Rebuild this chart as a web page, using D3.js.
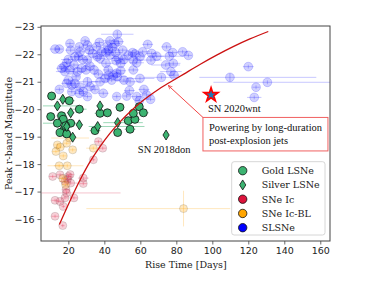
<!DOCTYPE html>
<html>
<head>
<meta charset="utf-8">
<script src="https://cdn.jsdelivr.net/npm/d3@7"></script>
<style>
  html, body { margin: 0; padding: 0; background: #fff; }
  svg { display: block; }
</style>
</head>
<body>
<svg id="chart"></svg>
<script>
// [rise time (days), peak mag, x error (days or [lo, hi]), y error (mag)]
const slsne = [
  [12.6,-22.19,3],[15.0,-22.19,2],[20.9,-22.39,2],[21.3,-22.15,3],[29.3,-22.49,2],[30.6,-22.33,3],
  [37.2,-22.43,2],[43.1,-22.49,4],[47.2,-22.73,9,0.12],[45.9,-22.39,3],[42.2,-22.15,5],[40.9,-22.06,4],
  [26.5,-22.09,3],[25.6,-21.91,2],[28.0,-21.81,3],[20.0,-21.81,4],[23.1,-21.61,3],[16.3,-21.49,3],
  [18.1,-21.37,5],[20.9,-21.43,3],[27.4,-21.49,3],[29.8,-21.43,2],[25.0,-21.37,4],[24.3,-21.18,2],
  [20.0,-21.06,3],[21.9,-20.88,2],[19.1,-20.94,3],[23.7,-20.94,2],[26.5,-20.80,3],[28.3,-20.64,2],
  [30.6,-21.0,6,0.15],[32.0,-20.82,3],[34.8,-20.72,2],[37.6,-21.0,5],[40.4,-21.12,3],[44.1,-21.06,4],
  [42.2,-21.24,3],[47.2,-21.18,5],[54.3,-21.0,6],[53.9,-20.68,3],[52.4,-20.48,2],[58.0,-20.46,3],
  [59.4,-20.31,2],[62.0,-20.72,3],[63.5,-20.52,4],[65.7,-20.36,2],[59.8,-21.12,8],[56.1,-21.43,3],
  [58.0,-21.69,4],[59.8,-21.91,3],[61.3,-22.09,4],[66.3,-22.03,3],[65.9,-21.79,6],[64.1,-22.36,3],
  [69.1,-21.93,4],[74.6,-22.27,3],[76.1,-21.93,8],[78.0,-22.06,3],[78.3,-21.67,4],[77.0,-21.37,6],
  [78.7,-21.24,3],[83.5,-22.09,3],[86.7,-21.96,2],[71.7,-21.16,10],[74.1,-21.61,8],
  [109.8,-21.16,[17,48],0.15],[120.0,-21.55,3],[124.3,-20.80,2],[123.3,-20.43,4],[130.6,-20.98,[30,40]],
  [37.6,-21.85,3],[40.9,-21.67,4],[43.1,-21.97,3],[41.7,-22.30,2],[38.5,-22.09,3],[36.1,-21.91,3],
  [47.8,-21.85,4],[46.5,-21.77,2],[49.1,-21.67,3],[50.9,-21.81,2],[53.3,-21.97,3],[56.1,-21.79,5],
  [57.0,-22.01,3],[55.7,-22.06,2],[50.2,-22.15,3],[46.3,-22.06,4],[44.6,-22.25,2],[47.8,-22.46,3],
  [49.1,-21.40,3],[46.9,-21.31,4],[42.2,-21.43,3],[45.0,-21.24,2],[36.7,-21.28,3],[34.3,-21.43,2],
  [32.0,-21.57,3],[30.6,-21.79,2],[33.5,-22.03,3],[35.7,-22.27,2],[31.7,-22.15,3],[26.1,-22.27,2],
  [23.7,-21.91,3],[19.1,-21.69,2],[17.6,-21.55,3],[15.0,-20.72,2],[21.9,-20.64,2],[26.1,-20.58,3],
  [30.6,-20.46,2],[39.4,-20.58,3],[46.9,-20.46,2],[50.9,-21.06,4]
];

const snIc = [
  [36.7,-18.82,2],[39.1,-18.58,2],[33.9,-18.16,1],[11.3,-17.55,2],[15.4,-17.61,2],[20.0,-17.55,2],
  [28.3,-17.49,3],[28.3,-17.29,2],[18.1,-17.37,3],[21.3,-17.31,4],[18.7,-17.07,2],[19.0,-16.95,[14,30]],
  [18.1,-16.77,2],[23.1,-16.77,2],[12.6,-16.68,2],[15.4,-16.64,2],[17.2,-16.46,1],[12.6,-16.10,2],
  [16.9,-15.76,1],[19.5,-17.45,2],[21.0,-17.62,2]
];

const snIcBL = [
  [13.9,-18.70,2],[15.5,-18.62,3],[19.1,-18.76,2],[22.4,-18.52,2],[13.1,-18.46,2],[17.2,-18.30,2],
  [14.9,-17.94,3],[19.4,-17.94,[11,9]],[33.9,-18.58,4],[16.9,-17.48,2],[20.5,-18.95,[10,11]],
  [18.5,-17.25,2],[84.0,-16.38,[54,26],0.65]
];

const goldLSNe = [
  [10.7,-20.48,2],[10.2,-19.73,2],[20.5,-20.31,3],[26.1,-20.0,4],[16.3,-19.76,3],[17.2,-19.63,2],
  [13.9,-19.49,[8,12]],[21.3,-19.49,3],[17.6,-19.25,3],[15.4,-19.15,2],[19.1,-19.10,2],[37.6,-19.85,3],
  [41.7,-19.87,2],[48.7,-20.07,2],[34.8,-19.22,3],[47.4,-19.15,2],[54.3,-19.27,3],[53.3,-19.58,4],
  [57.0,-19.63,3],[56.1,-19.85,2],[59.4,-20.09,2],[61.7,-19.87,3],[18.5,-19.40,3]
];

const silverLSNe = [
  [13.9,-20.12,[8,11]],[16.9,-20.36,3],[21.3,-19.87,2],[26.1,-19.43,2],[22.4,-18.98,2],[19.1,-19.37,3],
  [37.6,-20.12,2],[36.3,-19.37,[5,26]],[47.4,-19.51,[8,14]],[74.3,-19.06,0]
];

// jet-powered model curve
const jetCurve = [
  [15.0,-15.80],[20.9,-16.66],[26.5,-17.42],[32.0,-18.08],[37.6,-18.64],[43.1,-19.12],[48.7,-19.54],
  [54.3,-19.91],[59.8,-20.23],[65.4,-20.51],[70.0,-20.72],[76.5,-20.98],[83.9,-21.27],[93.1,-21.63],
  [102.4,-21.97],[111.6,-22.28],[120.9,-22.56],[131.1,-22.83]
];

const sn2020wnt = [99.3, -20.52];
const xTicks = [20, 40, 60, 80, 100, 120, 140, 160];
const yTicks = [-23, -22, -21, -20, -19, -18, -17, -16];
const legendLabels = ["Gold LSNe", "Silver LSNe", "SNe Ic", "SNe Ic-BL", "SLSNe"];

const width = 385, height = 282;
const margin = { left: 41, right: 55, top: 26, bottom: 41 };

const svg = d3.select("#chart").attr("width", width).attr("height", height);

const x = d3.scaleLinear().domain([4.8, 165.4]).range([margin.left, width - margin.right]);
const y = d3.scaleLinear().domain([-15.2, -23.03]).range([height - margin.bottom, margin.top]);

svg.append("clipPath").attr("id", "plot-clip")
  .append("rect")
  .attr("x", margin.left).attr("y", margin.top)
  .attr("width", width - margin.left - margin.right)
  .attr("height", height - margin.top - margin.bottom);

const g = svg.append("g").attr("clip-path", "url(#plot-clip)");

function xErr(d) {
  const e = d[2] || 0;
  return Array.isArray(e) ? e : [e, e];
}

function drawErrors(data, color, opacity, defYerr) {
  const eg = g.append("g").attr("stroke", color).attr("stroke-opacity", opacity).attr("stroke-width", 1);
  data.forEach((d) => {
    const [lo, hi] = xErr(d);
    if (lo || hi) {
      eg.append("line")
        .attr("x1", x(d[0] - lo)).attr("x2", x(d[0] + hi))
        .attr("y1", y(d[1])).attr("y2", y(d[1]));
    }
    const ye = d[3] !== undefined ? d[3] : defYerr;
    if (ye) {
      eg.append("line")
        .attr("x1", x(d[0])).attr("x2", x(d[0]))
        .attr("y1", y(d[1] - ye)).attr("y2", y(d[1] + ye));
    }
  });
}

function drawCircles(data, r, fill, fillOp, stroke, strokeOp, sw) {
  g.append("g").selectAll("circle")
    .data(data)
    .join("circle")
    .attr("cx", (d) => x(d[0]))
    .attr("cy", (d) => y(d[1]))
    .attr("r", r)
    .attr("fill", fill)
    .attr("fill-opacity", fillOp)
    .attr("stroke", stroke)
    .attr("stroke-opacity", strokeOp)
    .attr("stroke-width", sw);
}

const diamond = (w, h) => `M0,${-h / 2}L${w / 2},0L0,${h / 2}L${-w / 2},0Z`;

// SLSNe
drawErrors(slsne, "blue", 0.22, 0.07);
drawCircles(slsne, 4.4, "blue", 0.18, "blue", 0.22, 0.8);

// SNe Ic
drawErrors(snIc, "crimson", 0.25, 0.06);
drawCircles(snIc, 4, "crimson", 0.2, "#333", 0.2, 0.8);

// SNe Ic-BL
drawErrors(snIcBL, "orange", 0.25, 0.06);
drawCircles(snIcBL, 4, "orange", 0.25, "#333", 0.2, 0.8);

// Gold + silver LSNe
drawErrors(goldLSNe, "mediumseagreen", 0.5, 0.03);
drawErrors(silverLSNe, "mediumseagreen", 0.5, 0.03);
drawCircles(goldLSNe, 4, "mediumseagreen", 1, "#111", 1, 0.8);

g.append("g").selectAll("path")
  .data(silverLSNe)
  .join("path")
  .attr("d", diamond(6.2, 10))
  .attr("transform", (d) => `translate(${x(d[0])},${y(d[1])})`)
  .attr("fill", "mediumseagreen")
  .attr("stroke", "#111")
  .attr("stroke-width", 0.8);

// model curve
g.append("path")
  .datum(jetCurve)
  .attr("fill", "none")
  .attr("stroke", "#cc1111")
  .attr("stroke-width", 1.3)
  .attr("d", d3.line().x((d) => x(d[0])).y((d) => y(d[1])).curve(d3.curveMonotoneX));

// SN 2020wnt
svg.append("path")
  .attr("d", d3.symbol(d3.symbolStar, 62)())
  .attr("transform", `translate(${x(sn2020wnt[0])},${y(sn2020wnt[1])})`)
  .attr("fill", "#1f77b4")
  .attr("stroke", "red")
  .attr("stroke-width", 1.6)
  .attr("stroke-linejoin", "miter");

// frame + axes
const xAxis = svg.append("g")
  .attr("transform", `translate(0,${height - margin.bottom})`)
  .call(d3.axisBottom(x).tickValues(xTicks).tickSize(3.5).tickPadding(3).tickFormat(d3.format("d")));
const yAxis = svg.append("g")
  .attr("transform", `translate(${margin.left},0)`)
  .call(d3.axisLeft(y).tickValues(yTicks).tickSize(3.5).tickPadding(3).tickFormat(d3.format("d")));

[xAxis, yAxis].forEach((a) => {
  a.select(".domain").remove();
  a.selectAll("line").attr("stroke", "#444").attr("stroke-width", 0.8);
  a.selectAll("text")
    .attr("fill", "#222")
    .style("font-family", "DejaVu Sans, sans-serif")
    .style("font-size", "9.5px");
});

svg.append("rect")
  .attr("x", margin.left).attr("y", margin.top)
  .attr("width", width - margin.left - margin.right)
  .attr("height", height - margin.top - margin.bottom)
  .attr("fill", "none")
  .attr("stroke", "#444")
  .attr("stroke-width", 1);

svg.append("text")
  .attr("x", x(85.3)).attr("y", 267.5)
  .attr("text-anchor", "middle")
  .style("font-family", "DejaVu Serif, serif")
  .style("font-size", "9.5px")
  .attr("fill", "#222")
  .text("Rise Time [Days]");

svg.append("text")
  .attr("transform", `translate(12,${(margin.top + height - margin.bottom) / 2}) rotate(-90)`)
  .attr("text-anchor", "middle")
  .style("font-family", "DejaVu Serif, serif")
  .style("font-size", "9.5px")
  .attr("fill", "#222")
  .text("Peak r-band Magnitude");

// labels
const serif = "Liberation Serif, Times New Roman, serif";
svg.append("text")
  .attr("x", x(97.6)).attr("y", y(-19.88))
  .style("font-family", serif).style("font-size", "10.5px").attr("fill", "#111")
  .text("SN 2020wnt");
svg.append("text")
  .attr("x", x(58.6)).attr("y", y(-18.39))
  .style("font-family", serif).style("font-size", "10.5px").attr("fill", "#111")
  .text("SN 2018don");

// annotation arrow + box
const boxX = x(94.8), boxY = y(-19.7);
svg.append("defs").append("marker")
  .attr("id", "arrow")
  .attr("viewBox", "0 0 10 10")
  .attr("refX", 9).attr("refY", 5)
  .attr("markerWidth", 5).attr("markerHeight", 5)
  .attr("orient", "auto")
  .append("path")
  .attr("d", "M0,1L10,5L0,9")
  .attr("fill", "none")
  .attr("stroke", "#f03030")
  .attr("stroke-width", 1.4);

svg.append("line")
  .attr("x1", boxX).attr("y1", boxY)
  .attr("x2", x(75.6)).attr("y2", y(-20.86))
  .attr("stroke", "#f03030")
  .attr("stroke-width", 0.9)
  .attr("marker-end", "url(#arrow)");

svg.append("rect")
  .attr("x", boxX).attr("y", boxY)
  .attr("width", 125).attr("height", 33.5)
  .attr("fill", "white")
  .attr("stroke", "#f06060")
  .attr("stroke-width", 1);

svg.append("text")
  .attr("x", boxX + 6).attr("y", boxY + 14)
  .style("font-family", serif).style("font-size", "10.5px").attr("fill", "#111")
  .text("Powering by long-duration");
svg.append("text")
  .attr("x", boxX + 6).attr("y", boxY + 26.5)
  .style("font-family", serif).style("font-size", "10.5px").attr("fill", "#111")
  .text("post-explosion jets");

// legend
const legend = svg.append("g").attr("transform", "translate(231.7,161.7)");
legend.append("rect")
  .attr("width", 93.3).attr("height", 73.3)
  .attr("rx", 2.5)
  .attr("fill", "white").attr("fill-opacity", 0.8)
  .attr("stroke", "#ccc").attr("stroke-width", 0.8);

const legendColors = ["mediumseagreen", "mediumseagreen", "crimson", "orange", "blue"];
legendLabels.forEach((label, i) => {
  const ly = 9 + i * 14.25;
  if (i === 1) {
    legend.append("path")
      .attr("d", diamond(6.2, 10))
      .attr("transform", `translate(11,${ly})`)
      .attr("fill", legendColors[i]).attr("stroke", "#111").attr("stroke-width", 0.8);
  } else {
    legend.append("circle")
      .attr("cx", 11).attr("cy", ly).attr("r", 4.2)
      .attr("fill", legendColors[i]).attr("stroke", "#111").attr("stroke-width", 0.8);
  }
  legend.append("text")
    .attr("x", 30).attr("y", ly)
    .attr("dy", "0.35em")
    .style("font-family", "DejaVu Serif, serif")
    .style("font-size", "9.5px")
    .attr("fill", "#222")
    .text(label);
});
</script>
</body>
</html>
